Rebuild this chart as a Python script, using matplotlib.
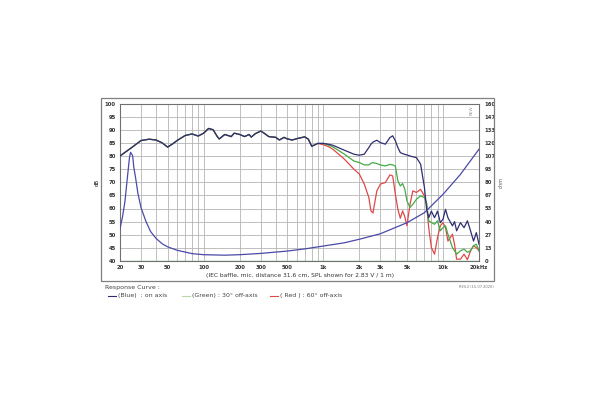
import matplotlib.pyplot as plt
from matplotlib.lines import Line2D
from matplotlib.patches import Rectangle
import numpy as np

# shared SPL below 1 kHz (all three curves lie on top of each other)
freq_lo = [20, 25, 30, 35, 40, 45, 50, 55, 60, 70, 80, 90, 100, 110, 120, 130, 135, 150, 160, 170,
           180, 200, 220, 240, 250, 270, 300, 320, 350, 400, 430, 470, 500, 550, 600, 700, 750, 800, 900]
spl_lo = [80, 83.2, 85.9, 86.4, 86.1, 85.0, 83.4, 84.6, 85.9, 87.8, 88.4, 87.6, 88.7, 90.5, 90, 87.4, 86.5, 88.2, 87.8, 87.4,
          88.7, 88.2, 87.4, 88.2, 87.2, 88.5, 89.5, 88.7, 87.4, 87.1, 86.1, 87.1, 86.5, 86.1, 86.6, 87.3, 86.4, 83.7, 84.8]

freq_hi = [1000, 1100, 1200, 1500, 1800, 2000, 2200, 2400, 2500, 2600,
           2800, 3000, 3300, 3600, 3800, 4000, 4200, 4400, 4600, 4800,
           5000, 5300, 5600, 6000, 6500, 7000, 7300, 7600, 8000, 8500,
           9000, 9500, 10000, 10500, 11000, 12000, 12500, 13000, 14000, 15000,
           16000, 17000, 18000, 19000, 20000]
blue_hi = [84.8, 84.5, 84.1, 82.2, 80.7, 80.3, 80.7, 83.2, 84.5, 85.3,
           86.0, 85.1, 84.5, 87.0, 87.7, 85.8, 83.2, 81.3, 80.9, 80.6,
           80.4, 80.0, 79.7, 79.4, 76.9, 68, 59.7, 56.5, 59, 56.5,
           59, 54.6, 55.9, 59.7, 56.5, 53.4, 55, 51.5, 54.6, 52.7,
           55.3, 51.5, 47.6, 50.8, 46.4]
green_hi = [84.8, 84.2, 83.5, 80.7, 78.1, 77.5, 76.6, 76.6, 77.2, 77.5,
            77.1, 76.6, 76.2, 76.8, 76.6, 76.2, 70.5, 68.6, 69.5, 67.3,
            62.9, 60.4, 61.6, 63.5, 64.8, 64.2, 62, 55.3, 54.7, 54,
            55.3, 51.5, 52.7, 53.4, 50.2, 45.1, 43.9, 42.6, 43.9, 44.5,
            43.3, 43.9, 45.8, 46.4, 43.9]
red_hi = [84.3, 83.6, 82.6, 78.8, 75, 73.1, 69.3, 64.2, 59.1, 58.3,
          66.7, 69.3, 69.9, 72.8, 72.4, 65.4, 59.7, 56.3, 59.1, 56.8,
          53.4, 61.6, 66.7, 66.1, 67.3, 64.8, 61.6, 52.7, 45.1, 42.6,
          48.9, 53.4, 54.6, 52.7, 47.6, 50.2, 46.2, 40.7, 40.7, 42.6,
          40.5, 43.9, 45.8, 45.1, 43.9]

# impedance (right axis)
imp_f = [20, 21, 22, 23.2, 24, 24.5, 25.5, 26.1, 27, 28.2, 30, 33, 36, 40, 45, 50, 60, 80, 100, 150,
         200, 300, 500, 700, 1000, 1500, 2000, 3000, 5000, 7000, 10000, 14000, 20000]
imp_ohm = [33, 45, 60.5, 88, 105, 110.4, 107, 95, 84.5, 69, 54, 40, 30, 23, 17.5, 14.4, 10.9, 7.5, 6.4, 5.9,
           6.4, 7.7, 10.1, 12.3, 15.2, 18.5, 22.1, 27.7, 38.9, 49.1, 67.7, 88, 113.6]

x_ticks = [20, 30, 50, 100, 200, 300, 500, 1000, 2000, 3000, 5000, 10000, 20000]
x_labels = ["20", "30", "50", "100", "200", "300", "500", "1k", "2k", "3k", "5k", "10k", "20kHz"]
x_grid = [20, 30, 40, 50, 60, 70, 80, 90, 100, 200, 300, 400, 500, 600, 700, 800, 900,
          1000, 2000, 3000, 4000, 5000, 6000, 7000, 8000, 9000, 10000, 20000]
db_ticks = list(range(40, 101, 5))
ohm_labels = ["0", "13", "27", "40", "53", "67", "80", "93", "107", "120", "133", "147", "160"]

BLUE = "#2e2e72"
IMP = "#4a4aa8"
GREEN = "#44aa44"
RED = "#e04848"

fig = plt.figure(figsize=(6, 4), dpi=100)
fig.patch.set_facecolor("white")

# outer frame
fig.patches.append(Rectangle((101 / 600, 1 - 281 / 400), 393 / 600, 183 / 400,
                             transform=fig.transFigure, fill=False, edgecolor="#808080", lw=0.9))

ax = fig.add_axes([120 / 600, 1 - 261 / 400, 359 / 600, 157.5 / 400])
ax.set_xscale("log")
ax.set_xlim(20, 20000)
ax.set_ylim(40, 100)

for xv in x_grid:
    ax.axvline(xv, color="#b4b4b4", lw=0.6, zorder=0)
for yv in db_ticks:
    ax.axhline(yv, color="#b4b4b4", lw=0.6, zorder=0)
ax.axhline(40.15, color="#8fcf8f", lw=1.0, zorder=1)

f_all = freq_lo + freq_hi
ax.plot(f_all, spl_lo + red_hi, color=RED, lw=0.9, zorder=2)
ax.plot(f_all, spl_lo + green_hi, color=GREEN, lw=0.9, zorder=3)
ax.plot(f_all, spl_lo + blue_hi, color=BLUE, lw=0.9, zorder=4)

ax.set_xticks(x_ticks)
ax.set_xticklabels(x_labels)
ax.xaxis.set_minor_locator(plt.NullLocator())
ax.set_yticks(db_ticks)
ax.tick_params(length=0, labelsize=3.8, pad=3, colors="#333333")
for lab in ax.get_xticklabels() + ax.get_yticklabels():
    lab.set_fontweight("bold")
for sp in ax.spines.values():
    sp.set_color("#707070")
    sp.set_linewidth(0.8)
ax.set_ylabel("dB", fontsize=3.8, labelpad=4)

ax2 = ax.twinx()
ax2.set_ylim(0, 160)
ax2.plot(imp_f, imp_ohm, color=IMP, lw=0.9, zorder=5)
ax2.set_yticks(np.linspace(0, 160, 13))
ax2.set_yticklabels(ohm_labels)
ax2.tick_params(length=0, labelsize=3.8, pad=4, colors="#333333")
for lab in ax2.get_yticklabels():
    lab.set_fontweight("bold")
for sp in ax2.spines.values():
    sp.set_visible(False)
ax2.set_ylabel("ohm", fontsize=3.5, labelpad=2, color="#555555")

ax.text(0.985, 0.985, "REW", transform=ax.transAxes, rotation=90, fontsize=3,
        color="#999999", ha="right", va="top")

fig.text(0.5, 1 - 276 / 400, "(IEC baffle, mic. distance 31.6 cm, SPL shown for 2.83 V / 1 m)",
         fontsize=4.3, ha="center", va="center", color="#333333")
fig.text(494 / 600, 1 - 287 / 400, "REV.2 (15.07.2020)", fontsize=2.6,
         ha="right", va="center", color="#777777")
fig.text(105 / 600, 1 - 288 / 400, "Response Curve :", fontsize=4.5, ha="left", va="center", color="#444444")

legend_items = [(108, "(Blue)  : on axis", BLUE),
                (182, "(Green) : 30° off-axis", "#b8d8a8"),
                (270, "( Red ) : 60° off-axis", RED)]
ly = 1 - 296 / 400
for x0, label, col in legend_items:
    fig.lines.append(Line2D([x0 / 600, (x0 + 8) / 600], [ly, ly], transform=fig.transFigure,
                            color=col, lw=0.8))
    fig.text((x0 + 10) / 600, ly, label, fontsize=4.5, ha="left", va="center", color="#444444")

fig.savefig("out.png", dpi=100)
